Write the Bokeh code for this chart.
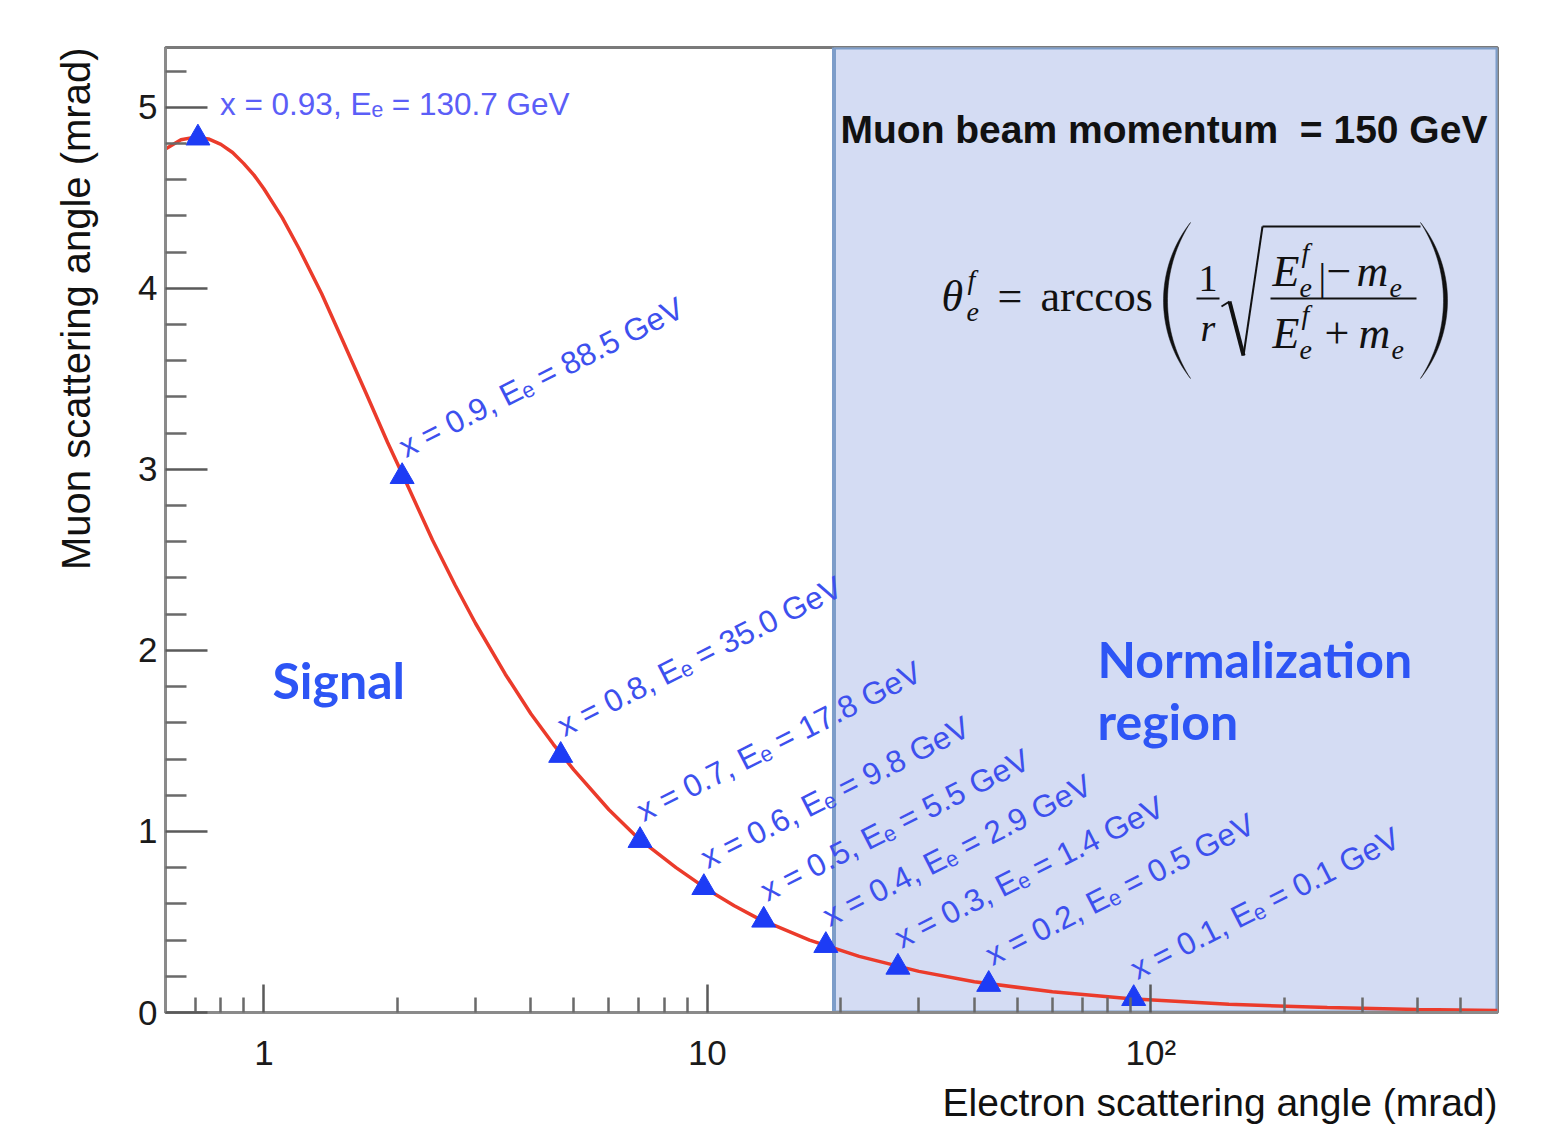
import numpy as np
from bokeh.plotting import figure
from bokeh.models import (Range1d, LinearScale, FixedTicker, CustomJSTickFormatter,
                          BoxAnnotation, Title)
from bokeh.core.properties import value
from bokeh.embed import file_html
from bokeh.resources import INLINE

# ---------------- data ----------------
curve_theta_e = [0.6, 0.65, 0.7, 0.75, 0.8, 0.85, 0.9, 0.95, 1.0, 1.1, 1.2, 1.35, 1.5,
                 1.7, 1.9, 2.1, 2.4, 2.7, 3.0, 3.5, 4.0, 4.5, 5.0, 6.0, 7.0, 8.5, 10,
                 11.5, 13, 17, 22, 30, 40, 60, 90, 150, 250, 400, 605]
curve_theta_mu = [4.77, 4.82, 4.835, 4.825, 4.795, 4.75, 4.69, 4.625, 4.55, 4.39, 4.22,
                  3.97, 3.72, 3.42, 3.15, 2.92, 2.61, 2.36, 2.15, 1.87, 1.65, 1.48, 1.34,
                  1.12, 0.96, 0.80, 0.68, 0.59, 0.52, 0.40, 0.31, 0.227, 0.170, 0.114,
                  0.076, 0.045, 0.027, 0.017, 0.011]

point_theta_e = [0.71, 2.05, 4.67, 7.05, 9.82, 13.4, 18.5, 26.9, 43.1, 91.5]
point_theta_mu = [4.83, 2.96, 1.42, 0.95, 0.69, 0.51, 0.37, 0.25, 0.155, 0.077]
point_x = ["0.93", "0.9", "0.8", "0.7", "0.6", "0.5", "0.4", "0.3", "0.2", "0.1"]
point_energy = ["130.7", "88.5", "35.0", "17.8", "9.8", "5.5", "2.9", "1.4", "0.5", "0.1"]

norm_region = [19.3, 605]

x_major = [1, 10, 100]
x_minor = [0.7, 0.8, 0.9, 2, 3, 4, 5, 6, 7, 8, 9, 20, 30, 40, 50, 60, 70, 80, 90,
           200, 300, 400, 500]
y_major = [0, 1, 2, 3, 4, 5]
y_minor = [0.2, 0.4, 0.6, 0.8, 1.2, 1.4, 1.6, 1.8, 2.2, 2.4, 2.6, 2.8, 3.2, 3.4, 3.6,
           3.8, 4.2, 4.4, 4.6, 4.8, 5.2]

x_title = "Electron scattering angle (mrad)"
y_title = "Muon scattering angle (mrad)"

# ---------------- layout ----------------
FW, FH = 1332, 965
PL, PT = 165, 47
PB = PT + FH


def fx(X):
    return X - PL


def fy(Y):
    return PB - Y


p = figure(x_axis_type="log", x_range=Range1d(0.6, 605), y_range=Range1d(0, 5.33),
           frame_width=FW, frame_height=FH, min_border_left=PL, min_border_right=40,
           min_border_top=PT, min_border_bottom=123, output_backend="svg",
           toolbar_location=None)
p.extra_x_ranges = {"px": Range1d(0, FW)}
p.extra_y_ranges = {"py": Range1d(0, FH)}
p.extra_x_scales = {"px": LinearScale()}
p.extra_y_scales = {"py": LinearScale()}

p.grid.visible = False
p.background_fill_color = "white"
p.border_fill_color = "white"
p.outline_line_color = "#7a7a7a"
p.outline_line_width = 3

# axes
p.xaxis.ticker = FixedTicker(ticks=x_major, minor_ticks=x_minor)
p.xaxis.formatter = CustomJSTickFormatter(code="""
if (Math.abs(tick - 1) < 1e-6) return "1";
if (Math.abs(tick - 10) < 1e-6) return "10";
if (Math.abs(tick - 100) < 1e-6) return "10\u00b2";
return "";
""")
p.yaxis.ticker = FixedTicker(ticks=y_major, minor_ticks=y_minor)

for ax in (p.xaxis[0], p.yaxis[0]):
    ax.axis_line_color = "#8a8a8a"
    ax.axis_line_width = 3
    ax.major_tick_line_color = "#5a5a5a"
    ax.major_tick_line_width = 2.5
    ax.minor_tick_line_color = "#6a6a6a"
    ax.minor_tick_line_width = 2.5
    ax.major_tick_out = 0
    ax.minor_tick_out = 0
    ax.major_label_text_font = "Liberation Sans"
    ax.major_label_text_font_size = "35px"
    ax.major_label_text_color = "#1a1a1a"

p.xaxis.major_tick_in = 28
p.xaxis.minor_tick_in = 15
p.xaxis.major_label_standoff = 20
p.yaxis.major_tick_in = 42
p.yaxis.minor_tick_in = 21
p.yaxis.major_label_standoff = 8

# axis titles
p.add_layout(Title(text=x_title, align="right", text_font="Liberation Sans",
                   text_font_size="39px", text_font_style="normal",
                   text_color="#111111", standoff=8), "below")
p.add_layout(Title(text=y_title, align="right", text_font="Liberation Sans",
                   text_font_size="40px", text_font_style="normal",
                   text_color="#111111", standoff=75), "left")

# normalization region
box = BoxAnnotation(left=norm_region[0], right=norm_region[1], bottom=0, top=5.33,
                    fill_color="#d4dcf3", fill_alpha=1.0, line_color="#7d9dc9",
                    line_alpha=1.0, line_width=4, level="underlay")
p.add_layout(box)

# curve and points
p.line(curve_theta_e, curve_theta_mu, line_color="#eb3b2b", line_width=3.5)
p.scatter(point_theta_e, point_theta_mu, marker="triangle", size=24,
          fill_color="#1d3cf5", line_color="#1d3cf5")

labels = [f"x = {a}, E\u2091 = {b} GeV" for a, b in zip(point_x, point_energy)]

p.text(x=point_theta_e[:1], y=point_theta_mu[:1], text=labels[:1],
       text_font=value("Liberation Sans"), text_font_size="31.5px",
       text_color="#5b5ef7", text_align="left", text_baseline="bottom",
       x_offset=22, y_offset=-16)
p.text(x=point_theta_e[1:], y=point_theta_mu[1:], text=labels[1:],
       text_font=value("Liberation Sans"), text_font_size="31.5px",
       text_color="#3d50ee", text_align="left", text_baseline="bottom",
       angle=np.deg2rad(27), x_offset=7, y_offset=-12)


def ptext(txt, X, Yb, size, color="#111111", font="Liberation Serif", style="normal",
          align="left"):
    # Yb is the wanted baseline (page px); rendered baseline sits ~0.36 em lower
    Y = Yb - 0.36 * size
    p.text(x=[fx(X)], y=[fy(Y)], text=[txt], x_range_name="px", y_range_name="py",
           text_font=value(font), text_font_size=f"{size}px", text_font_style=style,
           text_color=color, text_align=align, text_baseline="alphabetic")


def pline(pts, width=2, color="#111111"):
    p.line([fx(a) for a, b in pts], [fy(b) for a, b in pts], x_range_name="px",
           y_range_name="py", line_color=color, line_width=width)


# region texts
ptext("Muon beam momentum\u00a0 = 150 GeV", 840, 143, 39, color="#111111",
      font="Liberation Sans", style="bold")
ptext("Signal", 272, 697, 50, color="#2d55f5", font="Lato", style="bold")
ptext("Normalization", 1097, 676, 50, color="#2d55f5", font="Lato", style="bold")
ptext("region", 1097, 738, 50, color="#2d55f5", font="Lato", style="bold")

# formula
formula = [
    ("\u03b8", 941, 312, 44, "italic"),
    ("f", 967, 289, 28, "italic"),
    ("e", 966, 322, 28, "italic"),
    ("=", 997, 312, 44, "normal"),
    ("arccos", 1040, 312, 44, "normal"),
    ("1", 1198, 292, 38, "normal"),
    ("r", 1200, 341, 38, "italic"),
    ("E", 1272, 287, 44, "italic"),
    ("f", 1301, 262, 28, "italic"),
    ("e", 1299, 298, 28, "italic"),
    ("|", 1318, 290, 38, "normal"),
    ("\u2212", 1326, 287, 44, "normal"),
    ("m", 1356, 287, 44, "italic"),
    ("e", 1389, 298, 28, "italic"),
    ("E", 1272, 349, 44, "italic"),
    ("f", 1301, 324, 28, "italic"),
    ("e", 1299, 360, 28, "italic"),
    ("+", 1324, 349, 44, "normal"),
    ("m", 1358, 349, 44, "italic"),
    ("e", 1391, 360, 28, "italic"),
]
for t, X, Y, s, st in formula:
    ptext(t, X, Y, s, style=st)

pline([(1196, 298), (1219, 298)], 2)
pline([(1270, 298), (1416, 298)], 2)
pline([(1221, 306), (1229, 301)], 2)
pline([(1229, 301), (1243, 355)], 4)
pline([(1243, 355), (1262, 226)], 2)
pline([(1262, 226), (1420, 226)], 2)


def paren(x_extreme, x_end, y_top, y_bot, thick, side):
    half = (y_bot - y_top) / 2.0
    yc = (y_top + y_bot) / 2.0

    def arc(sag):
        R = (half ** 2 + sag ** 2) / (2 * sag)
        a = np.arcsin(half / R)
        t = np.linspace(-a, a, 40)
        if side == "left":
            xs = (x_end - sag) + R - R * np.cos(t)
        else:
            xs = (x_end + sag) - R + R * np.cos(t)
        ys = yc + R * np.sin(t)
        return xs, ys

    sag_o = abs(x_end - x_extreme)
    xo, yo = arc(sag_o)
    xi, yi = arc(sag_o - thick)
    xs = list(xo) + list(xi[::-1])
    ys = list(yo) + list(yi[::-1])
    p.patch([fx(v) for v in xs], [fy(v) for v in ys], x_range_name="px",
            y_range_name="py", fill_color="#111111", line_color="#111111",
            line_width=0.5)


paren(1163, 1190, 222, 378, 4, "left")
paren(1447, 1420, 222, 378, 4, "right")

open("out.html", "w").write(file_html(p, INLINE, title="Muon vs electron scattering angle"))
